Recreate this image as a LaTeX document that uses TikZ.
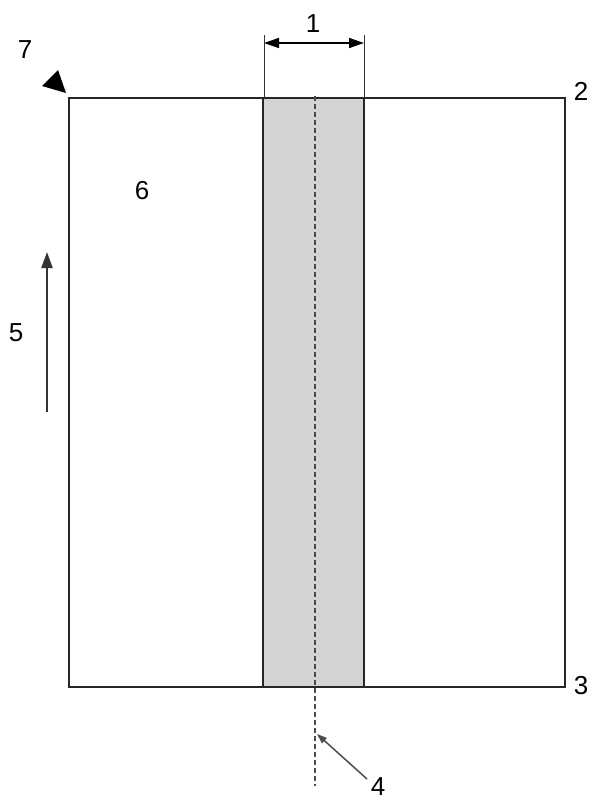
\documentclass[tikz,border=0pt]{standalone}
\usepackage{fontspec}
\setmainfont{Liberation Sans}
\usetikzlibrary{arrows.meta}
\begin{document}
\begin{tikzpicture}[x=1pt,y=-1pt,
  lbl/.style={font=\fontsize{26}{26}\selectfont, inner sep=0pt},
  frame/.style={line width=2pt, draw=black!85},
  thin/.style={line width=1pt, draw=black!80},
  tip/.style={-{Triangle[length=16pt,width=11pt]}}]
\useasboundingbox (0,0) rectangle (601,803);
% band
\fill[black!17] (263,98) rectangle (364,687);
\draw[frame] (263,98) -- (263,687) (364,98) -- (364,687);
% sheet
\draw[frame] (69,98) rectangle (565,687);
% centre line
\coordinate (ct) at (315,96);
\coordinate (cb) at (315,786);
\draw[line width=1.2pt, dash pattern=on 5pt off 3pt, draw=black!70] (ct) -- (cb);
% dimension 1
\coordinate (e1a) at (264,35);
\coordinate (e1b) at (264,98);
\coordinate (e2a) at (364,35);
\coordinate (e2b) at (364,98);
\draw[thin] (e1a) -- (e1b) (e2a) -- (e2b);
\coordinate (d1) at (264,43);
\coordinate (d2) at (364,43);
\draw[line width=1.5pt, {Triangle[length=15pt,width=10pt]}-{Triangle[length=15pt,width=10pt]}] (d1) -- (d2);
\node[lbl] (n1) at (313,24) {1};
% labels
\node[lbl] (n2) at (581,91) {2};
\node[lbl] (n3) at (581,686) {3};
\node[lbl] (n4) at (378,787) {4};
\node[lbl] (n5) at (16,333) {5};
\node[lbl] (n6) at (142,191) {6};
\node[lbl] (n7) at (25,50) {7};
% arrow 5
\coordinate (a5s) at (47,412);
\coordinate (a5e) at (47,252);
\draw[line width=2pt, draw=black!80, tip] (a5s) -- (a5e);
% arrow 4
\coordinate (a4s) at (367,779);
\coordinate (a4e) at (317,734);
\draw[line width=1.5pt, draw=black!70, -{Triangle[length=10pt,width=7pt]}] (a4s) -- (a4e);
% corner triangle 7
\coordinate (t1) at (42,86);
\coordinate (t2) at (58,70);
\coordinate (t3) at (66,93);
\fill[black] (t1) -- (t2) -- (t3) -- cycle;
\end{tikzpicture}
\end{document}
